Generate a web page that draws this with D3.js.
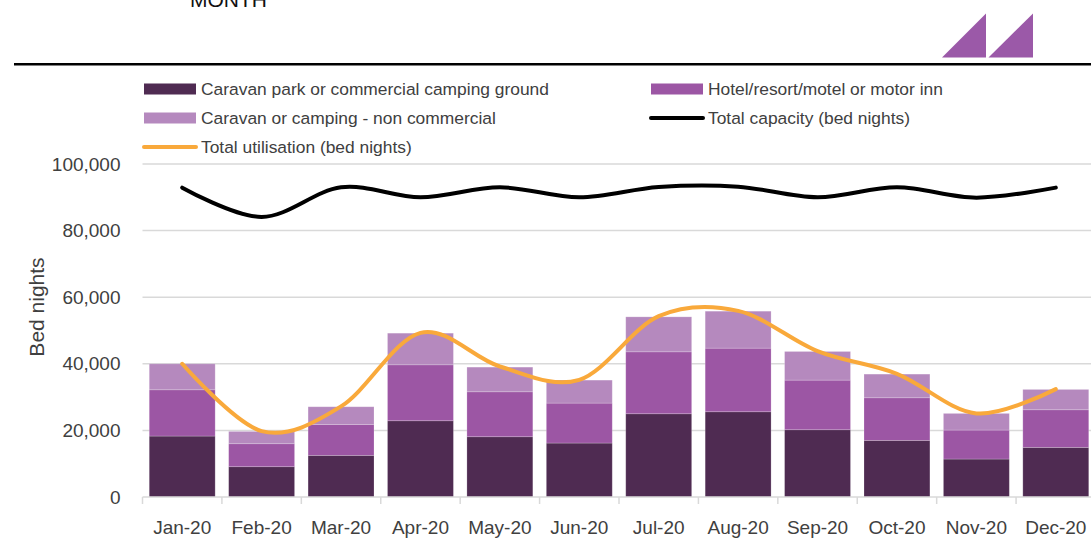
<!DOCTYPE html>
<html>
<head>
<meta charset="utf-8">
<script src="https://cdn.jsdelivr.net/npm/d3@7"></script>
<style>
  body { margin: 0; background: #fff; }
  svg { display: block; font-family: "Liberation Sans", Arial, sans-serif; }
</style>
</head>
<body>
<svg width="1091" height="545"></svg>
<script>
const months = ["Jan-20","Feb-20","Mar-20","Apr-20","May-20","Jun-20","Jul-20","Aug-20","Sep-20","Oct-20","Nov-20","Dec-20"]
const caravanPark = [18300, 9100, 12500, 22900, 18100, 16200, 25000, 25600, 20200, 17000, 11400, 14900]
const hotel = [13900, 6900, 9300, 16800, 13500, 12000, 18600, 19100, 14900, 12800, 8700, 11300]
const nonCommercial = [7800, 3700, 5300, 9500, 7400, 6900, 10500, 11100, 8600, 7100, 5000, 6100]
const capacity = [92900, 84100, 93000, 90000, 93000, 90000, 93100, 93200, 90000, 93000, 89900, 92900]
const utilisation = [40000, 19800, 27200, 49300, 39200, 35200, 54300, 55900, 43800, 37000, 25100, 32400]
const yTicks = [0, 20000, 40000, 60000, 80000, 100000]

const width = 1091
const height = 545
const margin = {left: 142.5, right: -4.5, top: 164, bottom: 48}

const colors = {dark: "#4f2b52", hotel: "#9c56a4", light: "#b589be", orange: "#f9a93b", cap: "#000"}
const textCol = "#404040"

const svg = d3.select("svg")

// header
svg.append("text").attr("x", 190).attr("y", 7)
	.attr("font-size", 21).attr("fill", "#111").text("MONTH")
svg.append("line").attr("x1", 14).attr("x2", width).attr("y1", 64.3).attr("y2", 64.3)
	.attr("stroke", "#000").attr("stroke-width", 2.4)
const logo = [[942, 986], [988.5, 1033]]
logo.forEach(v => {
	svg.append("path")
		.attr("d", `M${v[0]},57.5 L${v[1]},57.5 L${v[1]},13.5 Z`)
		.attr("fill", "#9b59a8")
})

const xScale = d3.scaleBand().domain(months).range([margin.left, width - margin.right]).paddingInner(0.17).paddingOuter(0.085)
const yScale = d3.scaleLinear().domain([0, 100000]).range([height - margin.bottom, margin.top])

// gridlines
svg.append("g").selectAll("line")
	.data(yTicks.slice(1))
	.enter()
	.append("line")
	.attr("x1", margin.left).attr("x2", width)
	.attr("y1", d => yScale(d)).attr("y2", d => yScale(d))
	.attr("stroke", "#d9d9d9").attr("stroke-width", 1.5)

// y axis labels
const yAxis = d3.axisLeft(yScale).tickValues(yTicks).tickSize(0).tickPadding(22).tickFormat(d3.format(","))
const yG = svg.append("g").attr("transform", `translate(${margin.left},0)`).call(yAxis)
yG.select(".domain").remove()
yG.selectAll("text").attr("font-size", 19).attr("fill", textCol).attr("font-family", "Liberation Sans, Arial, sans-serif")

svg.append("text")
	.attr("transform", `translate(44,307) rotate(-90)`)
	.attr("text-anchor", "middle").attr("font-size", 21).attr("fill", textCol)
	.text("Bed nights")

// stacked bars
const table = months.map((m, i) => ({month: m, park: caravanPark[i], hotel: hotel[i], non: nonCommercial[i]}))
const stack = d3.stack().keys(["park", "hotel", "non"])(table)
const fills = [colors.dark, colors.hotel, colors.light]

svg.append("g").selectAll("g")
	.data(stack)
	.enter()
	.append("g")
	.attr("fill", (d, i) => fills[i])
	.selectAll("rect")
	.data(d => d)
	.enter()
	.append("rect")
	.attr("x", d => xScale(d.data.month))
	.attr("width", xScale.bandwidth())
	.attr("y", d => yScale(d[1]))
	.attr("height", d => yScale(d[0]) - yScale(d[1]))
	.attr("stroke", "#fff").attr("stroke-opacity", 0.25).attr("stroke-width", 0.8)

// x axis
const step = xScale.step()
const x0 = margin.left
svg.append("line").attr("x1", x0).attr("x2", width)
	.attr("y1", yScale(0)).attr("y2", yScale(0))
	.attr("stroke", "#d9d9d9").attr("stroke-width", 1.5)
svg.append("g").selectAll("line")
	.data(d3.range(months.length))
	.enter()
	.append("line")
	.attr("x1", i => x0 + i * (width - margin.right - x0) / months.length)
	.attr("x2", i => x0 + i * (width - margin.right - x0) / months.length)
	.attr("y1", yScale(0)).attr("y2", yScale(0) + 7)
	.attr("stroke", "#d9d9d9").attr("stroke-width", 1.5)

svg.append("g").selectAll("text")
	.data(months)
	.enter()
	.append("text")
	.attr("x", d => xScale(d) + xScale.bandwidth() / 2)
	.attr("y", 534)
	.attr("text-anchor", "middle").attr("font-size", 19).attr("fill", textCol)
	.text(d => d)

// lines
const cx = (d, i) => xScale(months[i]) + xScale.bandwidth() / 2
const lineGen = d3.line().x(cx).y(d => yScale(d)).curve(d3.curveCardinal.tension(0))

svg.append("path").datum(capacity)
	.attr("d", lineGen).attr("fill", "none")
	.attr("stroke", colors.cap).attr("stroke-width", 4).attr("stroke-linecap", "round")
svg.append("path").datum(utilisation)
	.attr("d", lineGen).attr("fill", "none")
	.attr("stroke", colors.orange).attr("stroke-width", 4).attr("stroke-linecap", "round")

// legend
const legend = [
	{label: "Caravan park or commercial camping ground", type: "rect", color: colors.dark, x: 144, y: 89},
	{label: "Hotel/resort/motel or motor inn", type: "rect", color: colors.hotel, x: 651, y: 89},
	{label: "Caravan or camping - non commercial", type: "rect", color: colors.light, x: 144, y: 118},
	{label: "Total capacity (bed nights)", type: "line", color: colors.cap, x: 651, y: 118},
	{label: "Total utilisation (bed nights)", type: "line", color: colors.orange, x: 144, y: 147}
]
const lg = svg.append("g").selectAll("g")
	.data(legend)
	.enter()
	.append("g")
	.attr("transform", d => `translate(${d.x},${d.y})`)
lg.filter(d => d.type == "rect").append("rect")
	.attr("x", 0).attr("y", -5.5).attr("width", 52).attr("height", 11)
	.attr("fill", d => d.color)
lg.filter(d => d.type == "line").append("line")
	.attr("x1", 0).attr("x2", 52).attr("y1", 0).attr("y2", 0)
	.attr("stroke", d => d.color).attr("stroke-width", 4).attr("stroke-linecap", "round")
lg.append("text")
	.attr("x", 57).attr("y", 0).attr("dy", "0.35em")
	.attr("font-size", 17.4).attr("fill", textCol)
	.text(d => d.label)
</script>
</body>
</html>
